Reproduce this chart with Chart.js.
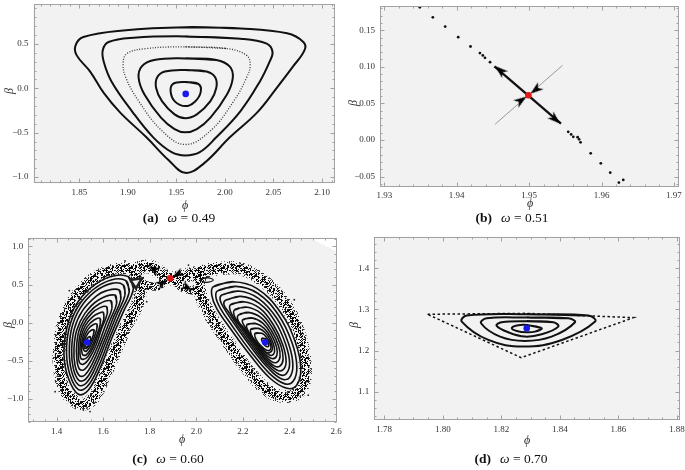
<!DOCTYPE html>
<html><head><meta charset="utf-8">
<script src="https://cdn.jsdelivr.net/npm/chart.js@4.4.1/dist/chart.umd.min.js"></script>
<style>
html,body{margin:0;padding:0;background:#fff;}
#wrap{position:relative;width:685px;height:470px;overflow:hidden;background:#fff;}
canvas{position:absolute;left:0;top:0;}
.lbl{position:absolute;font-family:"Liberation Serif","DejaVu Serif",serif;font-style:italic;font-size:12px;color:#333;transform:translate(-50%,-50%);white-space:nowrap;}
.rot{transform:translate(-50%,-50%) rotate(-90deg);}
.cap{position:absolute;font-family:"Liberation Serif","DejaVu Serif",serif;font-size:13.5px;color:#111;transform:translate(-50%,-50%);white-space:nowrap;}
.cap b{font-weight:bold;margin-right:9px;}
</style></head><body>
<div id="wrap">
<canvas id="ca" width="685" height="470"></canvas>
<canvas id="cb" width="685" height="470"></canvas>
<canvas id="cc" width="685" height="470"></canvas>
<canvas id="cd" width="685" height="470"></canvas>
<div class="lbl" style="left:185px;top:205px">ϕ</div>
<div class="lbl rot" style="left:9px;top:91px">β</div>
<div class="cap" style="left:179px;top:218px"><b>(a)</b><i>ω</i> = 0.49</div>
<div class="lbl" style="left:530px;top:203px">ϕ</div>
<div class="lbl rot" style="left:353px;top:103px">β</div>
<div class="cap" style="left:512px;top:218px"><b>(b)</b><i>ω</i> = 0.51</div>
<div class="lbl" style="left:182px;top:439px">ϕ</div>
<div class="lbl rot" style="left:8px;top:325px">β</div>
<div class="cap" style="left:168px;top:459px"><b>(c)</b><i>ω</i> = 0.60</div>
<div class="lbl" style="left:527px;top:440px">ϕ</div>
<div class="lbl rot" style="left:354px;top:325px">β</div>
<div class="cap" style="left:511px;top:459px"><b>(d)</b><i>ω</i> = 0.70</div>
</div>
<script>
// ================= DATA =================
// ---- Panel (a): omega = 0.49 ----
const aXTicks = [1.85, 1.90, 1.95, 2.00, 2.05, 2.10];
const aYTicks = [-1.0, -0.5, 0.0, 0.5];
const aCenter = [[1.9595, -0.063]];
const aOrbit1 = [[1.959,0.070],[1.9725,0.050],[1.975,-0.040],[1.969,-0.150],[1.959,-0.200],[1.9485,-0.150],[1.944,-0.040],[1.9465,0.050]];
const aOrbit2 = [[1.959,0.207],[1.981,0.189],[1.990,0.122],[1.991,0.004],[1.985,-0.144],[1.971,-0.293],[1.959,-0.337],[1.948,-0.293],[1.935,-0.144],[1.929,0.004],[1.930,0.122],[1.938,0.189]];
const aOrbit3 = [[1.959,0.337],[1.991,0.319],[2.005,0.244],[2.008,0.115],[2.002,-0.070],[1.985,-0.330],[1.971,-0.459],[1.959,-0.496],[1.948,-0.459],[1.934,-0.330],[1.917,-0.070],[1.911,0.115],[1.914,0.244],[1.927,0.319]];
const aOrbit4 = [[1.959,0.467],[2.002,0.448],[2.022,0.374],[2.026,0.263],[2.022,0.115],[2.009,-0.144],[1.985,-0.478],[1.959,-0.633],[1.935,-0.478],[1.911,-0.144],[1.898,0.115],[1.895,0.281],[1.899,0.393],[1.919,0.448]];
const aOrbit5 = [[1.959,0.585],[2.016,0.559],[2.043,0.504],[2.049,0.411],[2.046,0.300],[2.036,0.078],[2.016,-0.256],[1.991,-0.552],[1.974,-0.719],[1.959,-0.756],[1.945,-0.719],[1.926,-0.552],[1.904,-0.256],[1.883,0.078],[1.875,0.300],[1.874,0.430],[1.880,0.522],[1.906,0.570]];
const aOrbit6 = [[1.959,0.689],[2.016,0.675],[2.064,0.620],[2.081,0.520],[2.082,0.430],[2.070,0.244],[2.053,0.000],[2.033,-0.274],[2.005,-0.552],[1.978,-0.848],[1.959,-0.952],[1.942,-0.811],[1.919,-0.552],[1.892,-0.274],[1.875,-0.052],[1.861,0.189],[1.847,0.374],[1.846,0.485],[1.854,0.578],[1.895,0.652]];

// ---- Panel (b): omega = 0.51 ----
const bXTicks = [1.93, 1.94, 1.95, 1.96, 1.97];
const bYTicks = [-0.05, 0.00, 0.05, 0.10, 0.15];
const bSaddle = [[1.9499, 0.0611]];
const bOrbitDots = [[1.9349,0.1812],[1.9367,0.1676],[1.9384,0.1549],[1.9402,0.1404],[1.9419,0.1277],[1.9432,0.1187],[1.9436,0.1155],[1.9439,0.1123],[1.9446,0.1064],[1.9554,0.0113],[1.9558,0.0077],[1.9561,0.0045],[1.9567,0.0040],[1.9569,0.0010],[1.9571,-0.0030],[1.9585,-0.0181],[1.9599,-0.0317],[1.9612,-0.0444],[1.9624,-0.0580],[1.9630,-0.0543]];
const bUnstable = [[1.9452,0.1005],[1.9544,0.0226]];
const bStable = [[1.9453,0.0217],[1.9546,0.1019]];
const bArrows = [[1.9460,0.0951],[1.9536,0.0285],[1.9489,0.0543],[1.9509,0.0688]];
const bArrowDir = [1, 1, -1, -1];   // +1 away from saddle, -1 toward it

// ---- Panel (c): omega = 0.60 ----
const cXTicks = [1.4, 1.6, 1.8, 2.0, 2.2, 2.4, 2.6];
const cYTicks = [-1.0, -0.5, 0.0, 0.5, 1.0];
const cCenters = [[1.532,-0.258],[2.295,-0.258]];
const cSaddle = [[1.887, 0.581]];
const cLeftOrbits = [
  [[1.708,0.603],[1.730,0.450],[1.687,0.144],[1.637,-0.205],[1.587,-0.598],[1.537,-0.882],[1.494,-0.939],[1.451,-0.729],[1.432,-0.424],[1.444,-0.074],[1.479,0.210],[1.544,0.450],[1.630,0.603]],
  [[1.698,0.550],[1.712,0.405],[1.672,0.122],[1.626,-0.216],[1.580,-0.577],[1.532,-0.838],[1.494,-0.878],[1.458,-0.686],[1.443,-0.402],[1.454,-0.074],[1.490,0.199],[1.555,0.428],[1.634,0.560]],
  [[1.687,0.493],[1.694,0.362],[1.658,0.100],[1.615,-0.227],[1.572,-0.555],[1.527,-0.795],[1.494,-0.817],[1.465,-0.642],[1.455,-0.380],[1.465,-0.074],[1.501,0.188],[1.565,0.406],[1.637,0.515]],
  [[1.669,0.428],[1.676,0.308],[1.644,0.068],[1.605,-0.238],[1.565,-0.533],[1.525,-0.740],[1.496,-0.756],[1.472,-0.599],[1.465,-0.358],[1.476,-0.085],[1.511,0.155],[1.572,0.351],[1.615,0.420]],
  [[1.651,0.362],[1.658,0.253],[1.630,0.035],[1.594,-0.249],[1.558,-0.511],[1.522,-0.686],[1.498,-0.694],[1.479,-0.555],[1.475,-0.336],[1.487,-0.096],[1.522,0.122],[1.580,0.297]],
  [[1.633,0.286],[1.638,0.188],[1.612,-0.020],[1.582,-0.271],[1.550,-0.489],[1.519,-0.616],[1.498,-0.607],[1.487,-0.468],[1.487,-0.271],[1.501,-0.064],[1.537,0.122],[1.584,0.247]],
  [[1.615,0.210],[1.618,0.122],[1.594,-0.074],[1.570,-0.293],[1.541,-0.467],[1.515,-0.546],[1.498,-0.520],[1.494,-0.380],[1.498,-0.205],[1.515,-0.031],[1.551,0.122],[1.587,0.197]],
  [[1.601,0.134],[1.603,0.045],[1.582,-0.128],[1.558,-0.319],[1.534,-0.446],[1.514,-0.481],[1.503,-0.456],[1.501,-0.337],[1.506,-0.184],[1.523,-0.042],[1.556,0.078],[1.585,0.128]],
  [[1.587,0.057],[1.587,-0.031],[1.570,-0.183],[1.547,-0.345],[1.527,-0.424],[1.511,-0.415],[1.508,-0.293],[1.515,-0.162],[1.532,-0.052],[1.561,0.035]],
  [[1.574,-0.020],[1.572,-0.097],[1.557,-0.227],[1.538,-0.341],[1.523,-0.376],[1.514,-0.332],[1.513,-0.271],[1.521,-0.172],[1.536,-0.085],[1.555,-0.030]],
  [[1.561,-0.096],[1.558,-0.162],[1.544,-0.271],[1.529,-0.336],[1.519,-0.328],[1.519,-0.249],[1.527,-0.183],[1.541,-0.118]],
  [[1.544,-0.183],[1.547,-0.227],[1.537,-0.301],[1.527,-0.319],[1.522,-0.284],[1.529,-0.218]]
];
const cRightOrbits = [
  [[2.073,0.472],[2.159,0.537],[2.259,0.450],[2.359,0.144],[2.424,-0.249],[2.448,-0.598],[2.431,-0.817],[2.388,-0.860],[2.316,-0.729],[2.230,-0.424],[2.145,-0.074],[2.087,0.188],[2.066,0.362]],
  [[2.091,0.417],[2.170,0.476],[2.263,0.385],[2.352,0.101],[2.410,-0.260],[2.431,-0.577],[2.415,-0.769],[2.377,-0.799],[2.313,-0.664],[2.234,-0.380],[2.156,-0.053],[2.103,0.188],[2.084,0.330]],
  [[2.109,0.362],[2.180,0.415],[2.266,0.319],[2.345,0.057],[2.395,-0.271],[2.414,-0.555],[2.399,-0.721],[2.366,-0.738],[2.309,-0.598],[2.238,-0.336],[2.166,-0.031],[2.119,0.188],[2.102,0.297]],
  [[2.127,0.297],[2.191,0.345],[2.270,0.254],[2.338,0.013],[2.383,-0.282],[2.400,-0.533],[2.385,-0.671],[2.356,-0.679],[2.304,-0.550],[2.242,-0.315],[2.177,-0.042],[2.136,0.149],[2.118,0.240]],
  [[2.145,0.231],[2.202,0.275],[2.273,0.188],[2.331,-0.031],[2.371,-0.293],[2.385,-0.511],[2.371,-0.620],[2.345,-0.620],[2.299,-0.502],[2.245,-0.293],[2.188,-0.052],[2.152,0.109]],
  [[2.163,0.166],[2.213,0.205],[2.277,0.123],[2.327,-0.070],[2.362,-0.297],[2.372,-0.478],[2.358,-0.570],[2.334,-0.566],[2.294,-0.459],[2.247,-0.271],[2.197,-0.063],[2.166,0.066]],
  [[2.180,0.100],[2.223,0.135],[2.281,0.057],[2.323,-0.109],[2.352,-0.301],[2.359,-0.445],[2.345,-0.520],[2.323,-0.511],[2.288,-0.415],[2.248,-0.249],[2.205,-0.074],[2.180,0.022]],
  [[2.198,0.035],[2.238,0.063],[2.286,-0.009],[2.321,-0.153],[2.344,-0.319],[2.345,-0.430],[2.329,-0.472],[2.306,-0.443],[2.272,-0.332],[2.238,-0.195],[2.209,-0.060]],
  [[2.216,-0.031],[2.252,-0.009],[2.291,-0.074],[2.319,-0.197],[2.335,-0.336],[2.331,-0.415],[2.313,-0.424],[2.288,-0.358],[2.256,-0.249],[2.228,-0.140]],
  [[2.234,-0.086],[2.267,-0.075],[2.297,-0.136],[2.319,-0.245],[2.326,-0.347],[2.315,-0.391],[2.299,-0.390],[2.278,-0.330],[2.250,-0.234],[2.236,-0.160]],
  [[2.252,-0.140],[2.281,-0.140],[2.302,-0.197],[2.319,-0.293],[2.316,-0.358],[2.299,-0.358],[2.276,-0.301],[2.256,-0.218]],
  [[2.281,-0.205],[2.298,-0.214],[2.310,-0.271],[2.308,-0.314],[2.295,-0.301],[2.283,-0.249]]
];
const cLeftBand = [[1.723,0.690],[1.758,0.515],[1.751,0.275],[1.701,-0.031],[1.651,-0.380],[1.601,-0.729],[1.551,-1.013],[1.494,-1.057],[1.436,-0.882],[1.412,-0.555],[1.415,-0.205],[1.441,0.100],[1.489,0.362],[1.558,0.572],[1.644,0.690]];
const cRightBand = [[2.030,0.668],[2.159,0.721],[2.273,0.581],[2.374,0.275],[2.438,-0.118],[2.467,-0.555],[2.452,-0.860],[2.388,-0.969],[2.302,-0.882],[2.216,-0.598],[2.130,-0.227],[2.059,0.100],[2.016,0.406]];
const cBridgeUpper = [[1.723,0.690],[1.801,0.734],[1.887,0.581],[1.959,0.624],[2.030,0.668]];
const cBridgeLower = [[1.758,0.515],[1.830,0.472],[1.887,0.581],[1.944,0.450],[2.016,0.406]];
const cSmallIsland = [[2.016,0.559],[2.044,0.590],[2.073,0.559],[2.044,0.528]];
const cTriangleIsland = [[1.716,0.559],[1.766,0.581],[1.741,0.450],[1.716,0.559]];
const cArrows = [[1.816,0.703],[1.962,0.459],[1.919,0.633],[1.854,0.520]];
const cArrowDir = [1, 1, -1, -1];
const cStray = [[1.394,-0.904],[1.515,-1.144],[1.544,-1.166],[1.530,-1.120],[1.694,0.808],[1.966,0.755],[2.188,0.777],[2.474,-0.773],[1.436,0.188],[1.787,0.275],[1.455,0.420],[2.420,0.300],[2.480,-0.950],[1.405,-0.700]];
const cCornerWedge = [[2.485,1.114],[2.603,1.114],[2.603,0.930],[2.485,1.114]];

// ---- Panel (d): omega = 0.70 ----
const dXTicks = [1.78, 1.80, 1.82, 1.84, 1.86, 1.88];
const dYTicks = [1.1, 1.2, 1.3, 1.4];
const dCenter = [[1.8287, 1.2543]];
const dOrbit1 = [[1.8287,1.2623],[1.8338,1.2542],[1.8315,1.2460],[1.8287,1.2444],[1.8253,1.2477],[1.8236,1.2542],[1.8253,1.2607]];
const dOrbit2 = [[1.8287,1.2712],[1.8378,1.2688],[1.8395,1.2582],[1.8338,1.2396],[1.8281,1.2339],[1.8224,1.2444],[1.8184,1.2607],[1.8201,1.2688]];
const dOrbit3 = [[1.8287,1.2801],[1.8429,1.2785],[1.8452,1.2688],[1.8372,1.2339],[1.8281,1.2234],[1.8196,1.2339],[1.8131,1.2664],[1.8150,1.2785]];
const dOrbit4 = [[1.8287,1.2882],[1.8498,1.2850],[1.8521,1.2704],[1.8407,1.2258],[1.8275,1.2096],[1.8156,1.2258],[1.8065,1.2704],[1.8082,1.2850]];
const dSeparatrix = [[1.7948,1.2883],[1.8287,1.2905],[1.8652,1.2800],[1.8268,1.1827],[1.7948,1.2883]];

// ================= HELPERS =================
const FONT = "'Liberation Serif','Times New Roman',serif";
const BLUE = 'rgb(25,25,235)', RED = 'rgb(225,25,25)';
function P(arr){ return arr.map(p => ({x:p[0], y:p[1]})); }
function closedCurve(arr, extra){
  const d = P(arr); d.push(d[0], d[1]);
  return Object.assign({data:d, showLine:true, tension:0.4, pointRadius:0, borderColor:'#111', borderWidth:1.8, fill:false, order:5}, extra||{});
}
function polyline(arr, extra){
  return Object.assign({data:P(arr), showLine:true, tension:0, pointRadius:0, borderColor:'#111', borderWidth:1.8, fill:false, order:5}, extra||{});
}
function dotSet(arr, r, color, extra){
  return Object.assign({data:P(arr), showLine:false, pointRadius:r, pointStyle:'circle', pointBackgroundColor:color, pointBorderColor:color, pointBorderWidth:0, order:3}, extra||{});
}
function arrowImg(w, h){
  const c = document.createElement('canvas'); c.width = w; c.height = h;
  const g = c.getContext('2d'); g.fillStyle = '#000';
  g.beginPath(); g.moveTo(w/2, 0); g.lineTo(w, h); g.lineTo(w/2, h*0.72); g.lineTo(0, h); g.closePath(); g.fill();
  return c;
}
function arrowSet(pos, origin, dir, img){
  return {data:P(pos), showLine:false, pointRadius:5, pointStyle:img, order:1,
    pointRotation: (ctx) => {
      const ch = ctx.chart, xs = ch.scales.x, ys = ch.scales.y, i = ctx.dataIndex;
      if (!xs || !ys || i === undefined) return 0;
      const dx = xs.getPixelForValue(pos[i][0]) - xs.getPixelForValue(origin[0]);
      const dy = ys.getPixelForValue(pos[i][1]) - ys.getPixelForValue(origin[1]);
      const s = dir[i];
      return Math.atan2(s*dx, -s*dy) * 180 / Math.PI;
    }};
}
// speckle texture for the chaotic sea (deterministic integer hash)
function speckle(ctx, density, alpha){
  const N = 23, t = document.createElement('canvas'); t.width = N; t.height = N;
  const g = t.getContext('2d'); g.fillStyle = 'rgba(0,0,0,' + alpha + ')';
  for (let x = 0; x < N; x++) for (let y = 0; y < N; y++) {
    const h = ((x * 73856093) ^ (y * 19349663) ^ (x * y * 83492791)) >>> 0;
    if ((h % 1000) / 1000 < density) g.fillRect(x, y, 1, 1);
  }
  return ctx.createPattern(t, 'repeat');
}
function minorList(min, max, step){
  const out = []; const k0 = Math.ceil(min/step - 1e-6), k1 = Math.floor(max/step + 1e-6);
  for (let k = k0; k <= k1; k++) out.push(k*step);
  return out;
}
function fmt(v, dec){ return Number(v).toFixed(dec).replace('-', '\u2212'); }

const framePlugin = {
  id: 'frame',
  beforeDraw(chart){
    const {ctx, chartArea:a} = chart;
    ctx.save(); ctx.fillStyle = '#f2f2f2';
    ctx.fillRect(a.left, a.top, a.right - a.left, a.bottom - a.top); ctx.restore();
  },
  afterDraw(chart, args, o){
    const {ctx, chartArea:a, scales} = chart;
    const xs = scales.x, ys = scales.y;
    const L = Math.round(a.left) + 0.5, R = Math.round(a.right) - 0.5, T = Math.round(a.top) + 0.5, B = Math.round(a.bottom) - 0.5;
    ctx.save();
    ctx.strokeStyle = '#a2a2a2'; ctx.lineWidth = 1;
    ctx.strokeRect(L, T, R - L, B - T);
    ctx.beginPath();
    const xMaj = o.xTicks, yMaj = o.yTicks;
    minorList(xs.min, xs.max, o.xMinor).forEach(v => {
      const isMaj = xMaj.some(m => Math.abs(m - v) < o.xMinor/10);
      const len = isMaj ? 4 : 2; const x = Math.round(xs.getPixelForValue(v)) + 0.5;
      ctx.moveTo(x, B); ctx.lineTo(x, B - len); ctx.moveTo(x, T); ctx.lineTo(x, T + len);
    });
    minorList(ys.min, ys.max, o.yMinor).forEach(v => {
      const isMaj = yMaj.some(m => Math.abs(m - v) < o.yMinor/10);
      const len = isMaj ? 4 : 2; const y = Math.round(ys.getPixelForValue(v)) + 0.5;
      ctx.moveTo(L, y); ctx.lineTo(L + len, y); ctx.moveTo(R, y); ctx.lineTo(R - len, y);
    });
    ctx.stroke(); ctx.restore();
  }
};

function makePanel(id, area, xr, yr, xTicks, yTicks, xDec, yDec, xMinor, yMinor, datasets){
  const YW = 25, XH = 14, W = 685, H = 470;
  const tickFont = {family: FONT, size: 9};
  return new Chart(document.getElementById(id), {
    type: 'scatter',
    data: {datasets},
    options: {
      responsive: false, animation: false, events: [], devicePixelRatio: 1,
      layout: {padding: {left: area.l - YW, top: area.t, right: W - area.r, bottom: H - area.b - XH}},
      plugins: {legend: {display: false}, tooltip: {enabled: false},
        frame: {xTicks, yTicks, xMinor, yMinor}},
      scales: {
        x: {type: 'linear', min: xr[0], max: xr[1], grid: {display: false, drawTicks: false}, border: {display: false},
          afterBuildTicks: s => { s.ticks = xTicks.map(v => ({value: v})); },
          afterFit: s => { s.height = XH; s.paddingLeft = 0; s.paddingRight = 0; },
          ticks: {autoSkip: false, maxRotation: 0, minRotation: 0, padding: 4, color: '#333', font: tickFont,
            callback: v => fmt(v, xDec)}},
        y: {type: 'linear', min: yr[0], max: yr[1], grid: {display: false, drawTicks: false}, border: {display: false},
          afterBuildTicks: s => { s.ticks = yTicks.map(v => ({value: v})); },
          afterFit: s => { s.width = YW; s.paddingTop = 0; s.paddingBottom = 0; },
          ticks: {autoSkip: false, padding: 5, color: '#333', font: tickFont,
            callback: v => fmt(v, yDec)}}
      }
    },
    plugins: [framePlugin]
  });
}

// ================= PANELS =================
makePanel('ca', {l:33.5, t:1.5, r:335, b:183.3}, [1.8026, 2.1134], [-1.07, 0.95], aXTicks, aYTicks, 2, 1, 0.01, 0.1, [
  dotSet(aCenter, 3.3, BLUE, {order:0}),
  closedCurve(aOrbit1, {borderWidth:2}), closedCurve(aOrbit2, {borderWidth:2}), closedCurve(aOrbit3, {borderWidth:2}),
  closedCurve(aOrbit4, {borderWidth:1.3, borderColor:'#333', borderDash:[1,1.6]}),
  closedCurve(aOrbit5, {borderWidth:2}), closedCurve(aOrbit6, {borderWidth:2})
]);

const arrowB = arrowImg(9, 13);
makePanel('cb', {l:380, t:5, r:680, b:186.7}, [1.9294, 1.9707], [-0.0636, 0.183], bXTicks, bYTicks, 2, 2, 0.002, 0.01, [
  dotSet(bSaddle, 3.3, RED, {order:0}),
  arrowSet(bArrows, bSaddle[0], bArrowDir, arrowB),
  polyline(bUnstable, {borderWidth:2.3, order:4}),
  polyline(bStable, {borderWidth:1, borderColor:'#999', order:6}),
  dotSet(bOrbitDots, 1.4, '#111')
]);

const ctxC = document.getElementById('cc').getContext('2d');
const spkDense = speckle(ctxC, 0.5, 0.9);
const spkLight = speckle(ctxC, 0.25, 0.8);
const arrowC = arrowImg(8, 12);
const cDatasets = [
  dotSet(cCenters, 3.3, BLUE, {order:0}),
  dotSet(cSaddle, 3.3, RED, {order:0}),
  arrowSet(cArrows, cSaddle[0], cArrowDir, arrowC),
  polyline(cTriangleIsland, {borderWidth:2.5, borderColor:'#222', fill:'shape', backgroundColor:'#f2f2f2', order:2}),
  closedCurve(cSmallIsland, {borderWidth:1.2, order:2})
];
cLeftOrbits.forEach(o => cDatasets.push(closedCurve(o, {borderWidth:1.6})));
cRightOrbits.forEach(o => cDatasets.push(closedCurve(o, {borderWidth:1.6})));
cDatasets.push(
  closedCurve(cLeftBand, {borderWidth:8, borderColor:spkDense, order:8}),
  closedCurve(cRightBand, {borderWidth:8, borderColor:spkDense, order:8}),
  closedCurve(cLeftBand, {borderWidth:13, borderColor:spkLight, order:9}),
  closedCurve(cRightBand, {borderWidth:13, borderColor:spkLight, order:9}),
  polyline(cBridgeUpper, {borderWidth:9, borderColor:spkDense, tension:0.4, order:8}),
  polyline(cBridgeLower, {borderWidth:8, borderColor:spkDense, tension:0.4, order:8}),
  polyline(cBridgeUpper, {borderWidth:14, borderColor:spkLight, tension:0.4, order:9}),
  dotSet(cStray, 0.9, '#222', {order:7}),
  polyline(cCornerWedge, {borderWidth:0, borderColor:'#fff', fill:'shape', backgroundColor:'#fff', order:10})
);
makePanel('cc', {l:28.3, t:237.7, r:336.7, b:422.3}, [1.279, 2.602], [-1.306, 1.1135], cXTicks, cYTicks, 1, 1, 0.05, 0.1, cDatasets);

makePanel('cd', {l:374.3, t:236.7, r:680, b:420}, [1.7766, 1.8811], [1.031, 1.477], dXTicks, dYTicks, 2, 1, 0.005, 0.02, [
  dotSet(dCenter, 3.3, BLUE, {order:0}),
  closedCurve(dOrbit1, {borderWidth:2}), closedCurve(dOrbit2, {borderWidth:2}), closedCurve(dOrbit3, {borderWidth:2}), closedCurve(dOrbit4, {borderWidth:2}),
  polyline(dSeparatrix, {borderWidth:1.5, borderDash:[2.5,2.5]})
]);
</script>
</body></html>
